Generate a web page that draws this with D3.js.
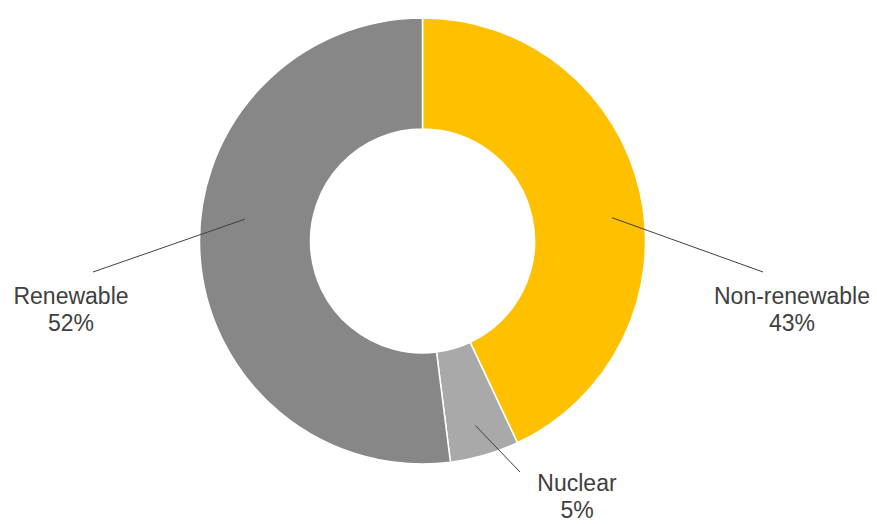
<!DOCTYPE html>
<html>
<head>
<meta charset="utf-8">
<script src="https://cdn.jsdelivr.net/npm/d3@7"></script>
<style>
  html, body { margin: 0; padding: 0; background: #fff; }
  svg text { font-family: "Liberation Sans", Arial, Helvetica, sans-serif; }
</style>
</head>
<body>
<div id="donut-chart"></div>
<script>
// data
const categories = ["Non-renewable", "Nuclear", "Renewable"];
const shares = [43, 5, 52];
const colors = ["#FFC000", "#A9A9A9", "#878787"];

const width = 877;
const height = 524;
const center = { x: 422.5, y: 241 };
const outerRadius = 223;
const innerRadius = 112;

// where each label sits, and where its leader line starts (angle in degrees, from 12 o'clock)
const labelLayout = [
  { anchorAngle: 83, anchorRadius: 191, lineEnd: [763, 272], text: [792, 304] },
  { anchorAngle: 164, anchorRadius: 192, lineEnd: [520, 472], text: [577, 491] },
  { anchorAngle: 277, anchorRadius: 179, lineEnd: [93, 272], text: [71, 304] }
];

const data = categories.map((c, i) => ({ name: c, value: shares[i], color: colors[i], layout: labelLayout[i] }));

const svg = d3
  .select("#donut-chart")
  .append("svg")
  .attr("width", width)
  .attr("height", height);

const pie = d3.pie()
  .value(d => d.value)
  .sort(null);

const arc = d3.arc()
  .innerRadius(innerRadius)
  .outerRadius(outerRadius);

const g = svg.append("g")
  .attr("transform", `translate(${center.x}, ${center.y})`);

g.selectAll("path.slice")
  .data(pie(data))
  .join("path")
  .attr("class", "slice")
  .attr("d", arc)
  .attr("fill", d => d.data.color)
  .attr("stroke", "#fff")
  .attr("stroke-width", 1.5);

// leader lines
const anchorPoint = d => {
  const a = d.data.layout.anchorAngle * Math.PI / 180;
  return d3.arc()
    .innerRadius(d.data.layout.anchorRadius)
    .outerRadius(d.data.layout.anchorRadius)
    .startAngle(a)
    .endAngle(a)
    .centroid();
};

svg.selectAll("line.leader")
  .data(pie(data))
  .join("line")
  .attr("class", "leader")
  .attr("x1", d => center.x + anchorPoint(d)[0])
  .attr("y1", d => center.y + anchorPoint(d)[1])
  .attr("x2", d => d.data.layout.lineEnd[0])
  .attr("y2", d => d.data.layout.lineEnd[1])
  .attr("stroke", "#404040")
  .attr("stroke-width", 1);

// labels
const labels = svg.selectAll("text.label")
  .data(data)
  .join("text")
  .attr("class", "label")
  .attr("text-anchor", "middle")
  .attr("fill", "#404040")
  .style("font-size", "23px");

labels.append("tspan")
  .attr("x", d => d.layout.text[0])
  .attr("y", d => d.layout.text[1])
  .text(d => d.name);

labels.append("tspan")
  .attr("x", d => d.layout.text[0])
  .attr("dy", 27)
  .text(d => d.value + "%");
</script>
</body>
</html>
